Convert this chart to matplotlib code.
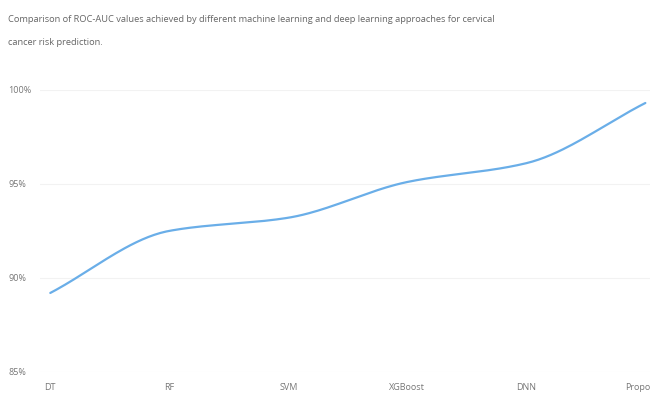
import numpy as np
import matplotlib
matplotlib.use("Agg")
import matplotlib.pyplot as plt
from matplotlib.ticker import FuncFormatter

models = ["DT", "RF", "SVM", "XGBoost", "DNN", "Proposed"]
roc_auc = [89.2, 92.5, 93.2, 95.1, 96.1, 99.3]
y_ticks = [85, 90, 95, 100]

title = ("Comparison of ROC-AUC values achieved by different machine learning and deep learning approaches for cervical\n"
         "cancer risk prediction.")


def monotone_curve(x, y, n=40):
    # monotone cubic (Fritsch-Carlson) so the line bends smoothly between points
    x = np.asarray(x, float)
    y = np.asarray(y, float)
    h = np.diff(x)
    d = np.diff(y) / h
    m = np.zeros_like(y)
    m[0], m[-1] = d[0], d[-1]
    for i in range(1, len(y) - 1):
        if d[i - 1] * d[i] > 0:
            w1 = 2 * h[i] + h[i - 1]
            w2 = h[i] + 2 * h[i - 1]
            m[i] = (w1 + w2) / (w1 / d[i - 1] + w2 / d[i])
    xs, ys = [], []
    for i in range(len(x) - 1):
        t = np.linspace(0, 1, n, endpoint=(i == len(x) - 2))
        h00 = 2 * t**3 - 3 * t**2 + 1
        h10 = t**3 - 2 * t**2 + t
        h01 = -2 * t**3 + 3 * t**2
        h11 = t**3 - t**2
        xs.append(x[i] + t * h[i])
        ys.append(h00 * y[i] + h10 * h[i] * m[i] + h01 * y[i + 1] + h11 * h[i] * m[i + 1])
    return np.concatenate(xs), np.concatenate(ys)


plt.rcParams["font.family"] = ["Open Sans", "DejaVu Sans"]

fig = plt.figure(figsize=(6.5, 3.94), dpi=100)
ax = fig.add_axes([0.062, 0.056, 0.94, 0.716])

xpos = np.arange(len(models))
cx, cy = monotone_curve(xpos, roc_auc)
ax.plot(cx, cy, color="#6aaee8", lw=1.6, solid_capstyle="round", zorder=3)

ax.set_xlim(-0.084, 5.05)
ax.set_ylim(85, 100)
ax.set_yticks(y_ticks)
ax.yaxis.set_major_formatter(FuncFormatter(lambda v, _: f"{v:.0f}%"))
ax.set_xticks(xpos)
ax.set_xticklabels(models)

ax.grid(axis="y", color="#f2f2f2", lw=0.8)
ax.set_axisbelow(True)
for s in ax.spines.values():
    s.set_visible(False)
ax.tick_params(length=0, labelsize=6.5, labelcolor="#777777")
ax.tick_params(axis="x", pad=8)
for lab in ax.get_yticklabels():
    lab.set_horizontalalignment("left")
ax.tick_params(axis="y", pad=23)

fig.text(0.012, 0.962, title, ha="left", va="top", fontsize=6.7,
         color="#666666", linespacing=2.95)

fig.savefig("out.png", dpi=100)
